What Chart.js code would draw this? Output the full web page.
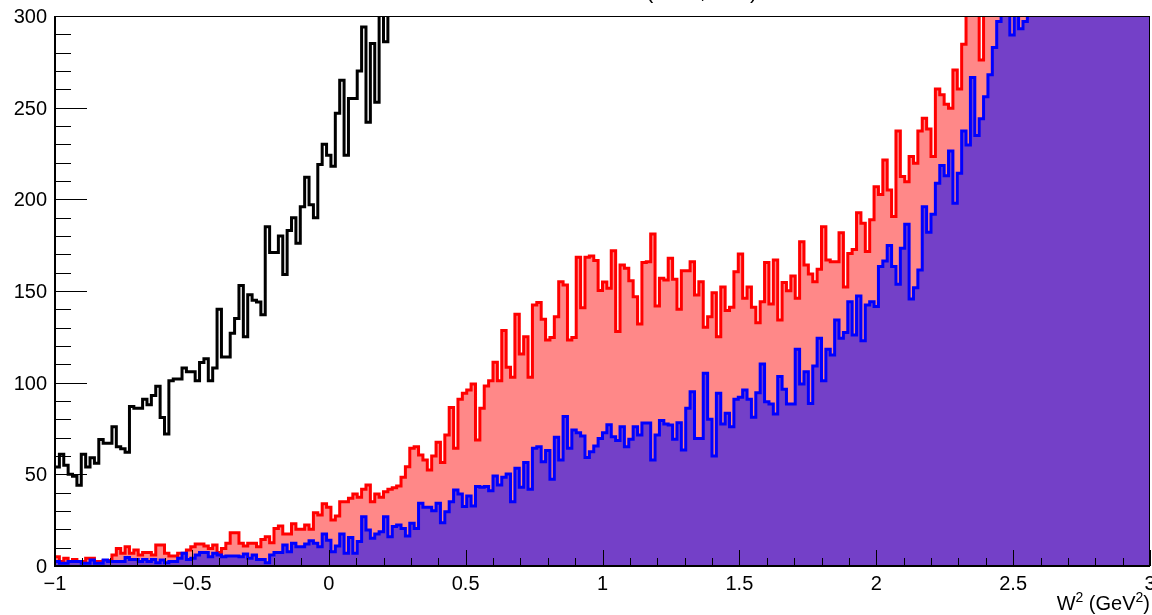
<!DOCTYPE html>
<html>
<head>
<meta charset="utf-8">
<script src="https://cdn.jsdelivr.net/npm/chart.js@4.4.0/dist/chart.umd.min.js"></script>
<style>
  html, body { margin: 0; padding: 0; background: #fff; }
  #wrap { width: 1152px; height: 615px; }
</style>
</head>
<body>
<div id="wrap"><canvas id="w2Chart" width="1152" height="615"></canvas></div>
<script>
// ========================================
// W^2 SPECTRUM — ROOT STYLE HISTOGRAMS
// ========================================

// Binning (250 bins of 0.016 GeV^2 from -1 to 3)
const X_MIN = -1;
const X_MAX = 3;
const BIN_WIDTH = 0.016;
const Y_MAX = 300;

const yTickLabels = [0, 50, 100, 150, 200, 250, 300];
const xTickLabels = [-1, -0.5, 0, 0.5, 1, 1.5, 2, 2.5, 3];

// Red histogram (pink fill), counts per bin
const redCounts = [
  5, 2.4, 4.2, 2.4, 3.6, 2.4, 2.4, 4.2, 4.2, 2.4,
  2.4, 3, 3, 6, 9.6, 6.9, 10.5, 6.9, 8.7, 6,
  7.3, 7.3, 6, 11.5, 11.5, 6.9, 5.5, 5.5, 6.9, 6.9,
  8.7, 10.5, 12, 12, 10.9, 9.6, 11.5, 7.3, 9.6, 12.4,
  18.2, 18.2, 12.4, 10.9, 12.4, 12.4, 10.5, 14.5, 16, 12.7,
  20.5, 21.8, 17.5, 17.5, 23, 20, 20, 22.4, 20, 29,
  27.8, 34, 32, 25.1, 27.3, 35.1, 35.1, 36.9, 39.3, 37.5,
  41.8, 44.2, 35.1, 39.3, 37.5, 40.5, 41.8, 42.7, 43.6, 48.4,
  54.2, 64.2, 65.1, 60.6, 57.8, 52.4, 60, 67.5, 56.4, 71.5,
  86.4, 64.2, 91, 94.2, 96, 99.3, 68.7, 86, 98.2, 101.1,
  111.1, 101.1, 128.4, 108.4, 102.9, 137.3, 115.6, 125.1, 102.9, 142.4,
  143.7, 134.6, 123.3, 124.7, 136, 155.1, 153.3, 123.3, 124.7, 168.4,
  140.9, 168.4, 169.1, 166.7, 150.3, 154.9, 151.5, 172, 127.9, 164.2,
  162.4, 155.6, 146.9, 132, 165.5, 166, 181.1, 141.8, 156.9, 156,
  167.8, 156.4, 140, 161.1, 161.1, 166, 147.8, 155.1, 130.2, 136,
  149.1, 125.1, 152.2, 139.3, 141.1, 160.5, 170.2, 146, 152.2, 141.1,
  132.7, 144.2, 165.5, 142.9, 166.9, 134.2, 154.6, 150.2, 158.2, 146,
  176.9, 164.2, 159.3, 155.1, 161.8, 185.1, 166.9, 166, 166, 181.8,
  152.2, 170.5, 172.7, 192.7, 186.9, 171.5, 188.8, 206.9, 202.7, 221.5,
  205.1, 190.6, 237.3, 212.4, 209.6, 223.3, 219.7, 237.3, 244.2, 238.4,
  223.3, 260.2, 257, 251.9, 249.7, 270.6, 260.2, 284.6, 310, 318,
  325, 276, 330, 338, 345, 352, 348, 360, 372, 368,
  380, 392, 400, 410, 405, 420, 432, 440, 455, 462,
  470, 485, 490, 505, 515, 520, 535, 548, 556, 570,
  580, 592, 600, 615, 628, 640, 652, 665, 678, 690
];

// Blue histogram (purple fill), counts per bin
const blueCounts = [
  2.4, 1.5, 1.5, 2.4, 2.4, 2.4, 1.5, 1.5, 3.3, 1.5,
  1.5, 3.3, 2.4, 2.4, 2.4, 2.4, 4.7, 3.6, 3.6, 2.4,
  3.6, 2.4, 3.6, 1.8, 3.3, 1.8, 2.4, 2.4, 4.2, 6.9,
  3.6, 4.2, 6, 7.3, 7.3, 5.1, 6.9, 6, 5.1, 5.5,
  5.5, 5.5, 5.1, 6.5, 4.2, 6, 3.6, 3.6, 1.8, 6,
  7.3, 7.3, 11.5, 7.8, 12.4, 10.5, 10.5, 12, 13.8, 12.4,
  10.5, 17.5, 14, 7.8, 10.9, 17.5, 6.9, 15.6, 6.9, 13.3,
  26.9, 19.6, 15.1, 17.5, 18.7, 26.9, 16, 21.5, 22.4, 20.5,
  16.4, 23.3, 20.5, 34.2, 32, 32, 30.2, 34.2, 23.6, 29.6,
  35.1, 41.5, 39.3, 32.4, 38.2, 32.7, 43.3, 42.9, 43.3, 41,
  49.1, 44.2, 48.4, 50.2, 35.1, 53.3, 42.9, 56.4, 41.8, 64.2,
  65.1, 56.9, 63, 47.3, 70.2, 57.8, 81.5, 64.2, 74.2, 72.7,
  70.9, 59.2, 62.3, 65.5, 69.5, 72.7, 77, 70.5, 68.4, 76,
  65.1, 69.1, 76, 71.5, 78, 78, 57.8, 71.5, 79.3, 77.5,
  76.9, 69.1, 78.2, 63.3, 86, 95.1, 69.6, 69.6, 105.1, 80,
  60, 94.2, 77.5, 83.3, 76, 90.9, 92, 96, 90.9, 81.1,
  94.5, 110.2, 89.6, 88.4, 82.9, 103.3, 96.4, 88.4, 88.4, 118.2,
  99.3, 106, 88.7, 109.1, 124.2, 101.1, 118.2, 115.1, 134.2, 124.2,
  127.3, 144.2, 126, 147.3, 122.9, 142.4, 144.2, 141.5, 163.3, 166.4,
  174.8, 163.3, 153.7, 173.3, 186.4, 145.6, 151.8, 161.5, 196, 182,
  191.9, 208.8, 218.4, 212.9, 226.4, 197.8, 214.2, 237.3, 229.7, 266.4,
  234.8, 243.9, 256, 267.9, 282.8, 297, 310, 310, 289.7, 310,
  293, 297, 315, 322, 330, 338, 345, 352, 360, 366,
  375, 384, 392, 400, 410, 418, 428, 436, 445, 455,
  465, 474, 484, 494, 505, 515, 526, 537, 548, 560
];

// Black histogram (no fill), off scale beyond ~0.2
const blackCounts = [
  54, 61, 55, 50, 49, 44, 61, 54, 59, 56,
  69, 67, 67, 76, 65, 64, 62, 87, 86, 86,
  91, 88, 93, 98, 81, 72, 101, 102, 102, 108,
  106, 106, 101, 111, 113, 101, 108, 140, 114, 114,
  127, 135, 153, 125, 148, 145, 144, 137, 185, 171,
  171, 180, 159, 183, 190, 176, 196, 212, 197, 190,
  219, 230, 224, 218, 247, 265, 224, 255, 255, 270,
  294, 242, 285, 253, 310, 286, 320, 335, 350, 360
];

const FONT = '"Liberation Sans", Arial, Helvetica, sans-serif';

// Utility: histogram counts -> step points at the bin edges
function histPoints(counts) {
  const pts = counts.map((c, i) => ({ x: X_MIN + i * BIN_WIDTH, y: c }));
  pts.push({ x: X_MIN + counts.length * BIN_WIDTH, y: counts[counts.length - 1] });
  return pts;
}

function fmtTick(v) {
  return v < 0 ? "\u2212" + Math.abs(v) : String(v);
}

// ======================================================
// ROOT-like frame: inward ticks, labels, axis title
// ======================================================
const rootFrame = {
  id: "rootFrame",
  afterDatasetsDraw(chart) {
    const { ctx, chartArea: a, scales: { x, y } } = chart;
    ctx.save();
    ctx.strokeStyle = "#000";
    ctx.fillStyle = "#000";

    // y ticks every 10, major every 50
    ctx.lineWidth = 1;
    for (let v = 0; v <= Y_MAX; v += 10) {
      const py = Math.round(y.getPixelForValue(v)) + 0.5;
      const len = v % 50 === 0 ? 32 : 16;
      ctx.beginPath();
      ctx.moveTo(a.left, py);
      ctx.lineTo(a.left + len, py);
      ctx.stroke();
    }

    // x ticks every 0.1, major every 0.5
    for (let k = 0; k <= 40; k++) {
      const px = Math.round(x.getPixelForValue(X_MIN + k * 0.1)) + 0.5;
      const len = k % 5 === 0 ? 16 : 8;
      ctx.beginPath();
      ctx.moveTo(px, a.bottom);
      ctx.lineTo(px, a.bottom - len);
      ctx.stroke();
    }

    // frame + axes
    ctx.lineWidth = 1;
    ctx.strokeRect(a.left + 0.5, a.top + 0.5, a.right - a.left - 1, a.bottom - a.top - 1);
    ctx.lineWidth = 2;
    ctx.beginPath();
    ctx.moveTo(a.left, a.top);
    ctx.lineTo(a.left, a.bottom);
    ctx.lineTo(a.right, a.bottom);
    ctx.stroke();

    // tick labels
    ctx.font = "20px " + FONT;
    ctx.textAlign = "right";
    ctx.textBaseline = "alphabetic";
    yTickLabels.forEach(v => {
      ctx.fillText(String(v), a.left - 8, y.getPixelForValue(v) + 7);
    });
    ctx.textAlign = "center";
    xTickLabels.forEach(v => {
      ctx.fillText(fmtTick(v), x.getPixelForValue(v), a.bottom + 24);
    });

    // x axis title W^2 (GeV^2), right aligned under the "3"
    const base = a.bottom + 44;
    const big = "20px " + FONT, small = "14px " + FONT;
    const parts = [["W", big, 0], ["2", small, -8], [" (GeV", big, 0], ["2", small, -8], [")", big, 0]];
    let total = 0;
    parts.forEach(p => { ctx.font = p[1]; total += ctx.measureText(p[0]).width; });
    let cx = a.right - total;
    ctx.textAlign = "left";
    parts.forEach(p => {
      ctx.font = p[1];
      ctx.fillText(p[0], cx, base + p[2]);
      cx += ctx.measureText(p[0]).width;
    });

    // histogram title, cut off above the canvas
    ctx.font = "22px " + FONT;
    ctx.fillText("(Data, Sim)", 646, -2);
    ctx.restore();
  }
};

// ======================================================
// Build chart
// ======================================================
function stepSet(label, counts, line, fill, order) {
  return {
    label,
    data: histPoints(counts),
    stepped: true,
    borderColor: line,
    borderWidth: 3,
    borderJoinStyle: "miter",
    borderCapStyle: "butt",
    backgroundColor: fill || "transparent",
    fill: fill ? "origin" : false,
    pointRadius: 0,
    tension: 0,
    clip: 0,
    order
  };
}

const ctx = document.getElementById("w2Chart").getContext("2d");
new Chart(ctx, {
  type: "line",
  data: {
    datasets: [
      stepSet("Black", blackCounts, "#000000", null, 1),
      stepSet("Blue", blueCounts, "#0000ff", "#7440c8", 2),
      stepSet("Red", redCounts, "#ff0000", "#ff8888", 3)
    ]
  },
  options: {
    responsive: false,
    animation: false,
    devicePixelRatio: 1,
    events: [],
    layout: { padding: { left: 55, right: 2, top: 16, bottom: 49 } },
    plugins: { legend: { display: false }, tooltip: { enabled: false } },
    scales: {
      x: { type: "linear", min: X_MIN, max: X_MAX, display: false },
      y: { type: "linear", min: 0, max: Y_MAX, display: false }
    }
  },
  plugins: [rootFrame]
});
</script>
</body>
</html>
